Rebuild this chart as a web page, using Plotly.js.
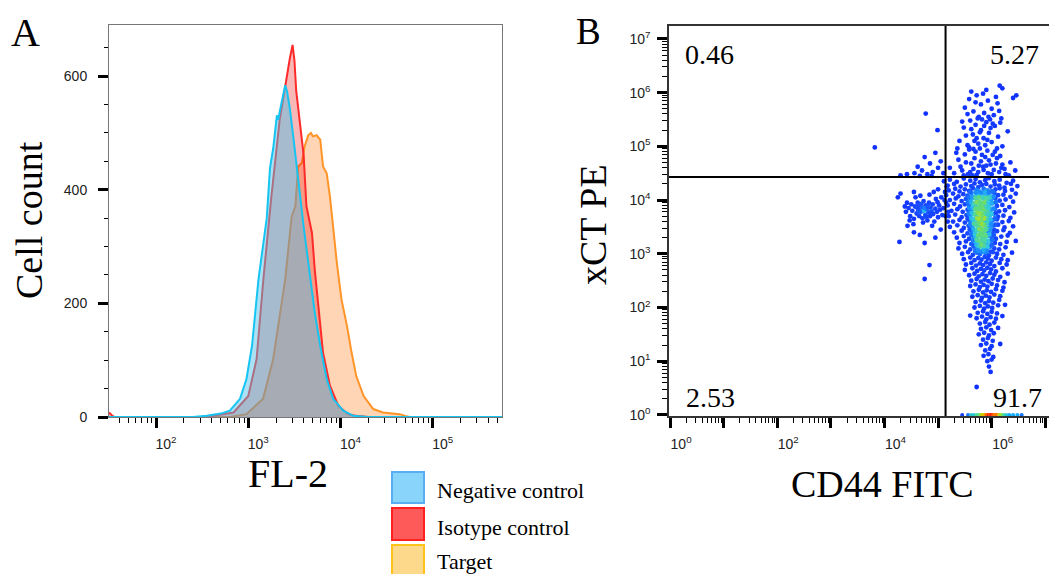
<!DOCTYPE html>
<html><head><meta charset="utf-8">
<script src="https://cdn.plot.ly/plotly-3.0.1.min.js"></script>
<style>html,body{margin:0;padding:0;background:#fff}#chart{width:1049px;height:574px}</style>
</head><body><div id="chart"></div>
<script>
// ---------- Panel A: FL-2 histograms (x in log10 units, y = cell count) ----------
const negLog   = [1.49,2.40,2.55,2.70,2.80,2.91,2.98,3.04,3.11,3.20,3.235,3.27,3.31,3.325,3.34,3.40,3.42,3.45,3.49,3.52,3.56,3.60,3.64,3.67,3.72,3.78,3.85,3.92,4.03,4.14,4.30,5.75];
const negCount = [0,0,2,6,11,32,67,125,242,350,438,473,531,523,537,584,573,543,490,445,390,335,285,245,184,125,67,32,11,2,0,0];
const isoLog   = [1.49,1.52,1.55,2.50,2.62,2.84,3.00,3.09,3.163,3.25,3.34,3.40,3.41,3.43,3.45,3.48,3.50,3.52,3.56,3.60,3.63,3.69,3.72,3.76,3.81,3.885,3.975,4.08,4.17,4.30,5.75];
const isoCount = [8,3,0,0,2,8,37,102,242,388,523,584,590,613,631,655,628,573,514,461,371,324,260,195,113,55,20,5,2,0,0];
const tgtLog   = [1.49,2.80,2.98,3.16,3.27,3.40,3.47,3.51,3.54,3.58,3.61,3.65,3.68,3.70,3.74,3.78,3.81,3.85,3.885,3.92,3.96,4.01,4.07,4.12,4.17,4.25,4.355,4.46,4.64,4.70,4.75,5.75];
const tgtCount = [0,0,5,32,102,242,353,371,441,447,476,496,500,494,496,488,441,429,388,330,271,207,160,113,72,37,14,8,5,2,0,0];
const histNames = ["Negative control","Isotype control","Target"];

// ---------- Panel B: CD44 FITC vs xCT PE events (log10 units) ----------
const leftPopCd44 = [4.40,4.45,4.48,4.50,4.52,4.55,4.57,4.60,4.62,4.63,4.65,4.66,4.68,4.70,4.71,4.73,4.74,4.76,4.77,4.79,4.80,4.82,4.83,4.85,4.86,4.88,4.90,4.91,4.93,4.95,4.96,4.98,5.00,5.02,5.04,5.06,5.08,
  4.42,4.47,4.58,4.67,4.72,4.84,4.92,5.00,4.38,4.54,4.61,4.69,4.75,4.81,4.87,4.64,4.78,4.99,4.30,4.25,4.55,4.43,4.89];
const leftPopXct  = [3.78,3.85,3.70,3.92,3.80,3.65,3.88,3.75,3.95,3.82,3.70,3.90,3.78,3.86,3.66,3.98,3.80,3.72,3.90,3.84,3.62,3.77,3.95,3.70,3.86,3.80,3.92,3.74,3.60,3.84,4.02,3.78,3.68,3.90,3.82,4.05,3.72,
  3.95,3.62,4.05,4.08,3.58,4.10,4.15,4.20,3.88,3.55,3.86,3.93,3.85,3.88,3.76,3.79,3.69,3.96,4.12,4.05,4.15,3.52,3.52];
const sparseCd44 = [4.28,4.66,4.84,4.75,4.75,4.55,4.95,5.05, 4.56,4.62,4.70,4.75,4.80,4.85,4.90,4.95,5.00,5.05,4.66,4.88,4.42,4.30,5.10, 3.82,4.77,4.99,6.15,6.46,6.20, 5.10,5.12,5.14,5.16,5.18,5.11,5.15,5.19,5.13];
const sparseXct  = [3.22,3.35,2.79,2.53,3.20,3.40,3.30,3.45, 4.50,4.62,4.55,4.80,4.48,4.68,4.52,4.88,4.60,4.72,4.45,4.45,4.48,4.46,4.50, 4.98,5.61,5.30,6.13,5.95,6.08, 3.85,4.00,3.70,4.25,3.60,4.35,3.95,3.78,4.15];
const upperCd44 = [5.50,5.58,5.66,5.72,5.80,5.86,5.93,6.00,6.08,6.14,5.62,5.76,5.90,6.04,5.55,5.84,5.97,6.11,5.70,6.18,6.40,
  5.40,5.48,5.55,5.60,5.65,5.70,5.75,5.80,5.85,5.90,5.95,6.00,6.06,6.12,6.20,6.30,5.52,5.62,5.72,5.82,5.92,6.02,5.58,5.68,5.78,5.88,5.98,6.10,5.45,5.66,5.86,6.16,5.74,5.94,5.36,
  5.22,5.30,5.38,5.45,5.50,5.56,5.62,5.66,5.70,5.75,5.80,5.84,5.88,5.93,5.98,6.04,6.10,6.18,6.26,6.35,6.44,5.34,5.42,5.52,5.60,5.68,5.76,5.85,5.92,6.00,6.08,6.16,6.24,6.32,5.48,5.58,5.72,5.82,5.95,6.06,6.20,5.64,5.78,5.90,6.02,6.14];
const upperXct  = [5.72,5.88,5.65,5.95,5.78,5.62,5.85,5.70,5.92,5.66,6.02,5.55,6.05,5.58,5.60,5.98,5.50,5.80,5.82,5.52,5.90,
  5.10,5.35,5.02,5.48,5.22,5.40,5.05,5.30,5.15,5.45,5.25,5.08,5.38,5.18,5.00,5.28,5.20,5.32,5.15,5.50,5.12,5.42,4.98,5.10,5.26,5.02,5.34,4.96,5.46,4.95,5.38,5.44,5.52,5.55,4.96,
  4.60,4.50,4.75,4.55,4.85,4.48,4.68,4.58,4.90,4.52,4.72,4.62,4.80,4.50,4.66,4.56,4.78,4.60,4.48,4.70,4.55,4.88,4.62,4.70,4.52,4.78,4.64,4.56,4.92,4.48,4.68,4.82,4.58,4.46,4.46,4.94,4.47,4.84,4.74,4.90,4.66,4.46,4.96,4.64,4.84,4.52];
const mainCd44 = [
  5.22,5.35,5.48,5.60,5.70,5.78,5.88,5.95,6.05,6.15,6.28,6.40,
  5.18,5.30,5.42,5.52,5.62,5.68,5.75,5.82,5.90,5.98,6.06,6.14,6.24,6.36,6.48,
  5.20,5.32,5.40,5.50,5.58,5.65,5.72,5.78,5.85,5.92,5.99,6.07,6.15,6.25,6.38,
  5.15,5.28,5.38,5.47,5.55,5.62,5.68,5.74,5.80,5.86,5.92,5.98,6.05,6.12,6.22,6.35,6.45,
  5.22,5.33,5.44,5.52,5.60,5.66,5.72,5.77,5.83,5.88,5.94,6.00,6.07,6.15,6.26,6.40,
  5.18,5.30,5.41,5.50,5.58,5.64,5.70,5.75,5.80,5.85,5.90,5.96,6.02,6.10,6.20,6.33,
  5.25,5.36,5.46,5.55,5.62,5.68,5.73,5.78,5.83,5.88,5.93,5.99,6.06,6.14,6.25,6.42,
  5.20,5.32,5.44,5.53,5.60,5.66,5.71,5.76,5.81,5.86,5.91,5.97,6.04,6.12,6.22,6.35,
  5.28,5.40,5.50,5.58,5.65,5.70,5.75,5.80,5.85,5.90,5.95,6.02,6.10,6.20,6.32,
  5.22,5.36,5.48,5.57,5.64,5.70,5.75,5.80,5.85,5.90,5.96,6.03,6.12,6.24,6.40,
  5.30,5.44,5.55,5.63,5.69,5.74,5.79,5.84,5.89,5.95,6.02,6.10,6.22,6.34,
  5.35,5.48,5.58,5.66,5.72,5.77,5.82,5.87,5.93,6.00,6.08,6.18,6.30,
  5.40,5.52,5.62,5.69,5.75,5.80,5.85,5.91,5.98,6.06,6.16,6.28,6.45,
  5.38,5.50,5.60,5.68,5.74,5.79,5.84,5.90,5.97,6.05,6.14,6.26,
  5.45,5.56,5.65,5.72,5.78,5.83,5.89,5.95,6.02,6.10,6.22,6.38,
  5.48,5.60,5.68,5.75,5.81,5.87,5.93,6.00,6.08,6.18,6.30,
  5.52,5.62,5.71,5.78,5.84,5.90,5.97,6.05,6.15,6.28,
  5.50,5.64,5.73,5.80,5.86,5.92,5.99,6.08,6.20,
  5.58,5.68,5.76,5.83,5.90,5.97,6.05,6.16,6.30,
  5.62,5.72,5.80,5.87,5.94,6.02,6.12,6.24,
  5.60,5.70,5.78,5.85,5.92,6.00,6.10,6.22,
  5.66,5.76,5.84,5.91,5.99,6.08,6.20,
  5.64,5.74,5.82,5.89,5.96,6.05,6.16,
  5.70,5.80,5.88,5.95,6.03,6.14,
  5.68,5.78,5.86,5.93,6.01,6.12,
  5.74,5.84,5.92,6.00,6.10,
  5.72,5.82,5.90,5.98,6.08,6.20];
const mainXct = [
  4.38,4.34,4.40,4.36,4.39,4.33,4.37,4.41,4.35,4.38,4.32,4.36,
  4.27,4.30,4.25,4.29,4.26,4.31,4.24,4.28,4.30,4.25,4.29,4.27,4.23,4.30,4.26,
  4.18,4.21,4.16,4.20,4.17,4.22,4.19,4.15,4.21,4.18,4.16,4.20,4.22,4.17,4.19,
  4.09,4.12,4.07,4.11,4.08,4.13,4.06,4.10,4.12,4.08,4.11,4.07,4.13,4.09,4.10,4.06,4.12,
  4.00,4.03,3.98,4.02,3.99,4.04,4.01,3.97,4.03,4.00,3.98,4.02,4.04,3.99,4.01,3.97,
  3.90,3.93,3.88,3.92,3.89,3.94,3.91,3.87,3.93,3.90,3.88,3.92,3.94,3.89,3.91,3.87,
  3.80,3.83,3.78,3.82,3.79,3.84,3.81,3.77,3.83,3.80,3.78,3.82,3.84,3.79,3.81,3.77,
  3.70,3.73,3.68,3.72,3.69,3.74,3.71,3.67,3.73,3.70,3.68,3.72,3.74,3.69,3.71,3.67,
  3.60,3.63,3.58,3.62,3.59,3.64,3.61,3.57,3.63,3.60,3.58,3.62,3.64,3.59,3.61,
  3.50,3.53,3.48,3.52,3.49,3.54,3.51,3.47,3.53,3.50,3.48,3.52,3.54,3.49,3.51,
  3.40,3.43,3.38,3.42,3.39,3.44,3.41,3.37,3.43,3.40,3.38,3.42,3.44,3.39,
  3.30,3.33,3.28,3.32,3.29,3.34,3.31,3.27,3.33,3.30,3.28,3.32,3.34,
  3.20,3.23,3.18,3.22,3.19,3.24,3.21,3.17,3.23,3.20,3.18,3.22,3.24,
  3.10,3.13,3.08,3.12,3.09,3.14,3.11,3.07,3.13,3.10,3.08,3.12,
  3.00,3.03,2.98,3.02,2.99,3.04,3.01,2.97,3.03,3.00,2.98,3.02,
  2.90,2.93,2.88,2.92,2.89,2.94,2.91,2.87,2.93,2.90,2.88,
  2.80,2.83,2.78,2.82,2.79,2.84,2.81,2.77,2.83,2.80,
  2.70,2.73,2.68,2.72,2.69,2.74,2.71,2.67,2.73,
  2.60,2.63,2.58,2.62,2.59,2.64,2.61,2.57,2.63,
  2.50,2.53,2.48,2.52,2.49,2.54,2.51,2.47,
  2.40,2.43,2.38,2.42,2.39,2.44,2.41,2.37,
  2.30,2.33,2.28,2.32,2.29,2.34,2.31,
  2.20,2.23,2.18,2.22,2.19,2.24,2.21,
  2.10,2.13,2.08,2.12,2.09,2.14,
  2.00,2.03,1.98,2.02,1.99,2.04,
  1.90,1.93,1.88,1.92,1.89,
  1.80,1.83,1.78,1.82,1.79,1.84];
const coreCd44 = [5.60,5.70,5.76,5.82,5.88,5.95,6.02, 5.58,5.64,5.70,5.77,5.83,5.90,5.97,6.04, 5.56,5.62,5.68,5.73,5.78,5.83,5.88,5.94,6.00,6.08,
  5.58,5.65,5.70,5.76,5.81,5.86,5.91,5.96,6.03, 5.57,5.63,5.69,5.74,5.79,5.84,5.89,5.94,6.00,6.08, 5.55,5.62,5.68,5.73,5.78,5.83,5.88,5.93,5.98,6.06,
  5.60,5.67,5.72,5.78,5.83,5.88,5.93,5.99,6.07, 5.59,5.66,5.72,5.77,5.82,5.87,5.92,5.98,6.05, 5.62,5.69,5.75,5.80,5.85,5.90,5.96,6.04,
  5.65,5.72,5.78,5.83,5.88,5.94,6.01, 5.66,5.72,5.77,5.82,5.87,5.93,6.00, 5.69,5.75,5.81,5.86,5.92,5.99];
const coreXct  = [4.15,4.14,4.16,4.13,4.15,4.14,4.16, 4.05,4.06,4.04,4.05,4.06,4.04,4.05,4.06, 3.95,3.96,3.94,3.96,3.95,3.94,3.96,3.95,3.94,3.96,
  3.85,3.86,3.84,3.86,3.85,3.84,3.86,3.85,3.84, 3.75,3.76,3.74,3.76,3.75,3.74,3.76,3.75,3.74,3.76, 3.65,3.66,3.64,3.66,3.65,3.64,3.66,3.65,3.64,3.66,
  3.55,3.56,3.54,3.56,3.55,3.54,3.56,3.55,3.54, 3.45,3.46,3.44,3.46,3.45,3.44,3.46,3.45,3.44, 3.35,3.36,3.34,3.36,3.35,3.34,3.36,3.35,
  3.25,3.26,3.24,3.26,3.25,3.24,3.26, 3.15,3.16,3.14,3.16,3.15,3.14,3.16, 3.05,3.06,3.04,3.06,3.05,3.04];
const tailCd44 = [5.78,5.88,5.96,6.05,5.80,5.90,5.99,6.12,5.76,5.86,5.95,6.04,5.84,5.93,6.02,5.80,5.90,6.00,6.16,5.88,5.97,5.85,5.94,6.03,5.92,6.00,5.95,5.98,5.72,5.60,6.25];
const tailXct  = [1.70,1.73,1.68,1.72,1.60,1.63,1.58,1.62,1.50,1.53,1.48,1.52,1.40,1.43,1.38,1.30,1.33,1.28,1.32,1.20,1.23,1.10,1.13,1.08,1.00,1.03,0.90,0.80,0.52,1.85,2.05];
const stripCd44 = [5.45,5.56,5.62,5.67,5.72,5.76,5.80,5.83,5.86,5.89,5.91,5.93,5.95,5.97,5.99,6.01,6.03,6.05,6.07,6.09,6.12,6.15,6.18,6.22,6.27,6.33,6.40,6.48,6.56];
const stripXctLog = 0;
const gateCd44Log = 5.14, gateXctLog = 4.43;
const quadrantPct = ["0.46","5.27","2.53","91.7"];

// ---------- build ----------
const W = 1049, H = 574;
const px = x => x / W, py = y => 1 - y / H;
const pow10 = a => a.map(v => Math.pow(10, v));
function density(xs, ys, r) {
  return xs.map((x, i) => { let c = 0; for (let j = 0; j < xs.length; j++) { const dx = xs[j] - x, dy = ys[j] - ys[i]; if (dx*dx + dy*dy < r*r) c++; } return c; });
}
const allX = [].concat(leftPopCd44, sparseCd44, upperCd44, mainCd44, coreCd44, tailCd44);
const allY = [].concat(leftPopXct, sparseXct, upperXct, mainXct, coreXct, tailXct);
const dens = density(allX, allY, 0.15);
const stripY = stripCd44.map(() => stripXctLog);
const stripDens = density(stripCd44, stripY, 0.1);

const serif = "Liberation Serif, Times New Roman, serif";
const sans = "Liberation Sans, Arial, sans-serif";

const traces = [
  {x: pow10(tgtLog), y: tgtCount, name: histNames[2], mode: 'lines', fill: 'tozeroy', fillcolor: 'rgba(255,150,70,0.40)', line: {color: '#ff9428', width: 2}, xaxis: 'x', yaxis: 'y'},
  {x: pow10(isoLog), y: isoCount, name: histNames[1], mode: 'lines', fill: 'tozeroy', fillcolor: 'rgba(235,0,0,0.28)', line: {color: '#ff2a2a', width: 2}, xaxis: 'x', yaxis: 'y'},
  {x: pow10(negLog), y: negCount, name: histNames[0], mode: 'lines', fill: 'tozeroy', fillcolor: 'rgba(74,191,234,0.47)', line: {color: '#16c4f2', width: 2}, xaxis: 'x', yaxis: 'y'},
  {x: pow10(allX), y: pow10(allY), mode: 'markers', xaxis: 'x2', yaxis: 'y2',
   marker: {size: 4.8, color: dens, cmin: 1, cmax: Math.max(...dens),
     colorscale: [[0,'#1030ff'],[0.45,'#1848ff'],[0.62,'#1a8cff'],[0.75,'#2cc8e8'],[0.87,'#62dc78'],[1,'#a8e030']]}},
  {x: pow10(stripCd44), y: pow10(stripY), mode: 'markers', xaxis: 'x2', yaxis: 'y2',
   marker: {size: 4, color: stripDens, cmin: 1, cmax: Math.max(...stripDens),
     colorscale: [[0,'#1a40ff'],[0.25,'#10b8ff'],[0.45,'#50e090'],[0.6,'#c8e000'],[0.8,'#ff9000'],[1,'#ff2010']]}},
  {x: pow10([gateCd44Log, gateCd44Log]), y: pow10([-0.02, 7.24]), mode: 'lines', xaxis: 'x2', yaxis: 'y2', line: {color: '#000', width: 2}},
  {x: pow10([-0.02, 7.07]), y: pow10([gateXctLog, gateXctLog]), mode: 'lines', xaxis: 'x2', yaxis: 'y2', line: {color: '#000', width: 2}}
];

const tickFont = {family: sans, size: 14, color: '#222'};
const sup = n => '10<sup>' + n + '</sup>';
const minorLog = {ticks: 'outside', ticklen: 5, tickwidth: 1.3, tickcolor: '#000', dtick: 'D1'};
function ax(extra) {
  return Object.assign({showgrid: false, zeroline: false, showline: true, linecolor: '#777', linewidth: 1, mirror: true,
    ticks: 'outside', tickcolor: '#000', tickwidth: 2.5, ticklen: 10, tickfont: tickFont}, extra);
}

const layout = {
  width: W, height: H, margin: {l: 0, r: 0, t: 0, b: 0}, showlegend: false,
  paper_bgcolor: '#fff', plot_bgcolor: '#fff',
  xaxis: ax({domain: [px(109), px(502)], anchor: 'y', type: 'log', range: [1.49, 5.75],
    tickmode: 'array', tickvals: [1e2,1e3,1e4,1e5], ticktext: [2,3,4,5].map(sup), ticklabelshift: 10, ticklabelstandoff: 4,
    minor: minorLog}),
  yaxis: ax({domain: [py(417), py(25)], anchor: 'x', range: [0, 690],
    tickmode: 'array', tickvals: [0,200,400,600], ticktext: ['0','200','400','600'], ticklabelstandoff: 8,
    minor: {ticks: 'outside', ticklen: 4, tickwidth: 1.2, tickcolor: '#000', dtick: 50, tick0: 0}}),
  xaxis2: ax({domain: [px(669), 1], anchor: 'y2', type: 'log', range: [-0.02, 7.07], linecolor: '#333', linewidth: 1.5,
    tickmode: 'array', tickvals: pow10([0,1,2,3,4,5,6,7]), ticktext: [sup(0),'',sup(2),'',sup(4),'',sup(6),''], ticklabelshift: 11, ticklabelstandoff: 4,
    minor: minorLog}),
  yaxis2: ax({domain: [py(416), py(26)], anchor: 'x2', type: 'log', range: [-0.02, 7.24], linecolor: '#333', linewidth: 1.5,
    tickmode: 'array', tickvals: pow10([0,1,2,3,4,5,6,7]), ticktext: [0,1,2,3,4,5,6,7].map(sup), ticklabelstandoff: 4,
    minor: minorLog}),
  shapes: [
    {type: 'rect', xref: 'paper', yref: 'paper', x0: px(392), x1: px(424), y0: py(503), y1: py(472), fillcolor: '#88d4fb', line: {color: '#58aef2', width: 2}},
    {type: 'rect', xref: 'paper', yref: 'paper', x0: px(392), x1: px(424), y0: py(540), y1: py(508), fillcolor: '#ff5a5a', line: {color: '#ff2020', width: 2}},
    {type: 'rect', xref: 'paper', yref: 'paper', x0: px(392), x1: px(424), y0: py(578), y1: py(545), fillcolor: '#fdd98c', line: {color: '#ffc21a', width: 2}}
  ],
  annotations: []
};
function label(text, x, y, size, opts) {
  layout.annotations.push(Object.assign({text: text, x: px(x), y: py(y), xref: 'paper', yref: 'paper', xanchor: 'center', yanchor: 'middle',
    showarrow: false, font: {family: serif, size: size, color: '#000'}}, opts || {}));
}
label('A', 25, 33, 40);
label('B', 588, 31, 37);
label('Cell count', 29, 220, 38, {textangle: -90});
label('FL-2', 288, 473, 40);
label('xCT PE', 593, 225, 38, {textangle: -90});
label('CD44 FITC', 882, 484, 38);
label(quadrantPct[0], 683, 54, 28, {xanchor: 'left'});
label(quadrantPct[1], 1041, 54, 28, {xanchor: 'right'});
label(quadrantPct[2], 684, 397, 28, {xanchor: 'left'});
label(quadrantPct[3], 1044, 397, 28, {xanchor: 'right'});
label(histNames[0], 435, 490, 22, {xanchor: 'left'});
label(histNames[1], 435, 527, 22, {xanchor: 'left'});
label(histNames[2], 435, 561, 22, {xanchor: 'left'});

Plotly.newPlot('chart', traces, layout, {displayModeBar: false});
</script></body></html>
